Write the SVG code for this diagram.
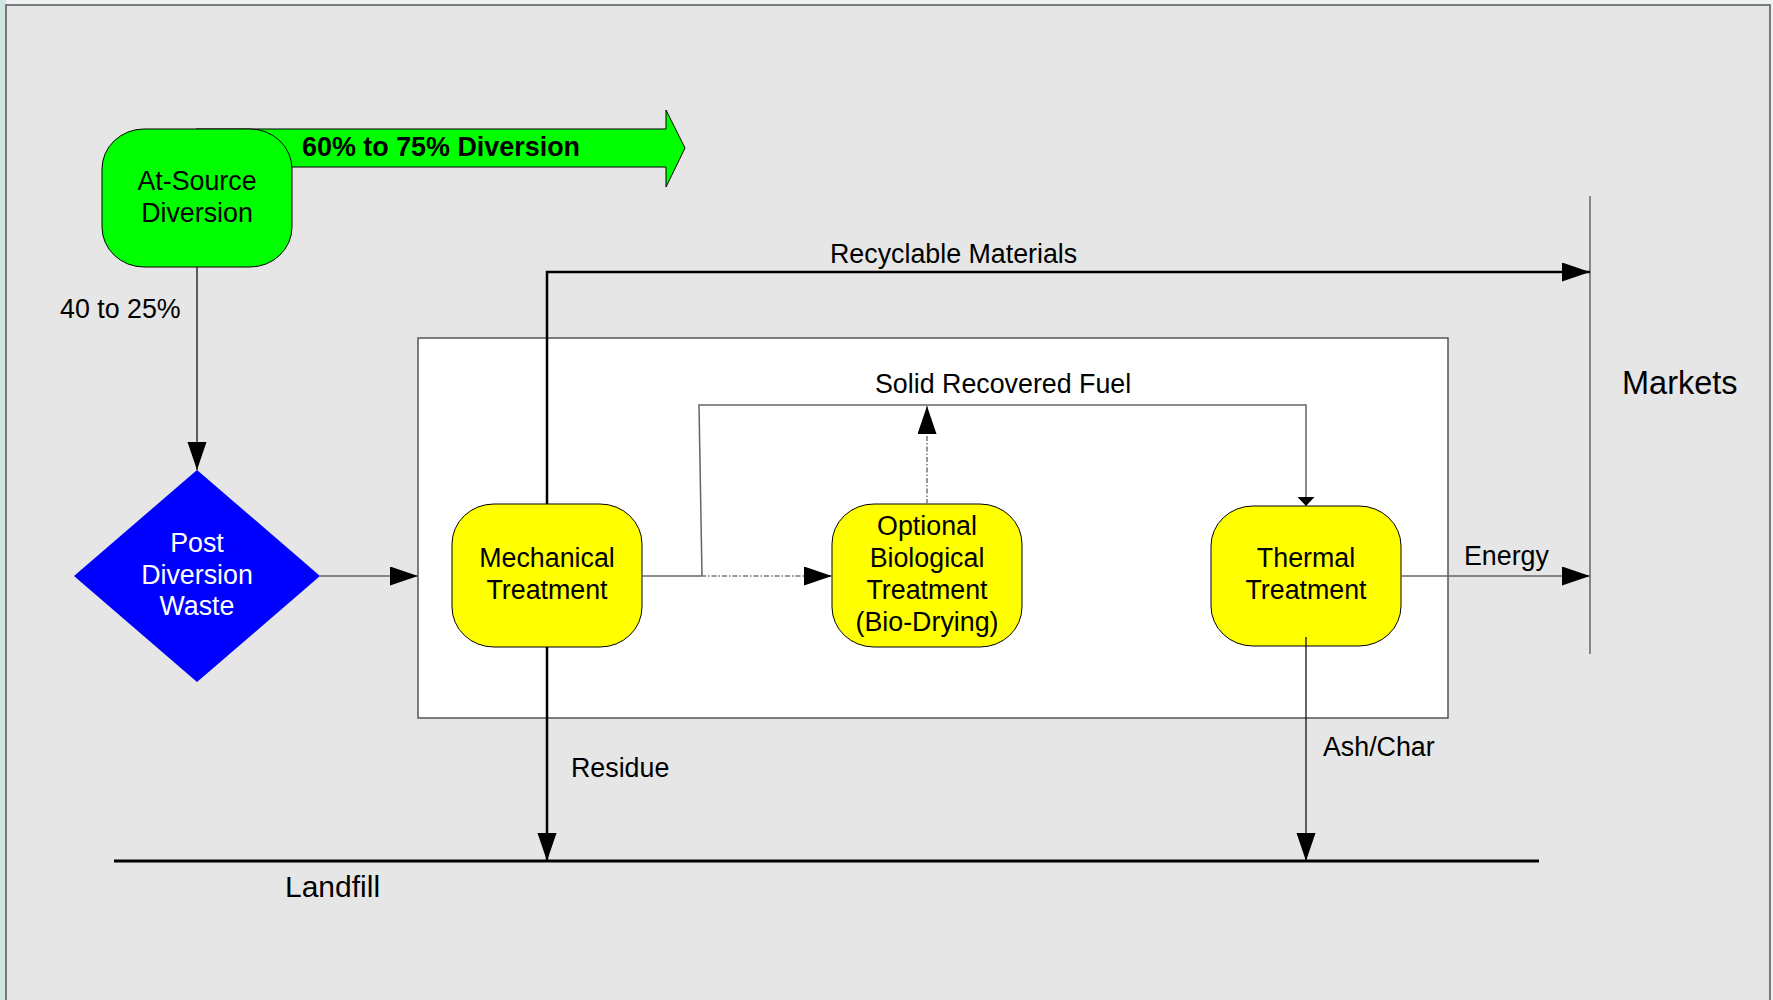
<svg xmlns="http://www.w3.org/2000/svg" width="1773" height="1000" viewBox="0 0 1773 1000">
  <style>
    text { font-family: "Liberation Sans", Arial, sans-serif; font-size: 26.8px; fill: #000; }
    .mid { text-anchor: middle; }
    .node { stroke: #000; stroke-width: 1; }
    .thin { fill: none; stroke: #666; stroke-width: 1.5; }
    .thinBlack { fill: none; stroke: #000; stroke-width: 1.2; }
    .thick { fill: none; stroke: #000; stroke-width: 2.5; }
    .dashdot { fill: none; stroke: #777; stroke-width: 1.5; stroke-dasharray: 5 2 1.5 2; }
  </style>
  <defs>
    <marker id="arrow" markerUnits="userSpaceOnUse" markerWidth="30" markerHeight="22" refX="28" refY="9.5" orient="auto">
      <polygon points="0,0 28,9.5 0,19" fill="#000"/>
    </marker>
    <marker id="arrowSmall" markerUnits="userSpaceOnUse" markerWidth="12" markerHeight="20" refX="9" refY="8.5" orient="auto">
      <polygon points="0,0 9,8.5 0,17" fill="#000"/>
    </marker>
  </defs>

  <!-- page background -->
  <rect x="0" y="0" width="1773" height="1000" fill="#eef1f1"/>
  <rect x="0" y="0" width="6" height="1000" fill="#d0e6e3"/>
  <rect x="6" y="5" width="1764" height="1000" fill="#e6e6e6" stroke="#555" stroke-width="1.5"/>

  <!-- processing area -->
  <rect id="processing-area" x="418" y="338" width="1030" height="380" fill="#fff" stroke="#555" stroke-width="1.5"/>

  <!-- diversion arrow -->
  <g id="diversion-arrow">
    <polygon points="196,129 666,129 666,110 685,148 666,187 666,167 196,167" fill="#00ff00" stroke="#000" stroke-width="1"/>
    <text x="302" y="156" font-weight="bold" style="font-size:26.9px">60% to 75% Diversion</text>
  </g>

  <g id="at-source">
    <rect class="node" x="102" y="129" width="190" height="138" rx="42" ry="40" fill="#00ff00"/>
    <text class="mid" x="197" y="190">At-Source</text>
    <text class="mid" x="197" y="222">Diversion</text>
  </g>

  <g id="post-diversion">
    <polygon points="197,470 320,576 197,682 74,576" fill="#0000ff"/>
    <text class="mid" x="197" y="552" style="fill:#fff">Post</text>
    <text class="mid" x="197" y="584" style="fill:#fff">Diversion</text>
    <text class="mid" x="197" y="615" style="fill:#fff">Waste</text>
  </g>

  <g id="mechanical">
    <rect class="node" x="452" y="504" width="190" height="143" rx="42" ry="40" fill="#ffff00"/>
    <text class="mid" x="547" y="567">Mechanical</text>
    <text class="mid" x="547" y="599">Treatment</text>
  </g>

  <g id="biological">
    <rect class="node" x="832" y="504" width="190" height="143" rx="42" ry="40" fill="#ffff00"/>
    <text class="mid" x="927" y="535">Optional</text>
    <text class="mid" x="927" y="567">Biological</text>
    <text class="mid" x="927" y="599">Treatment</text>
    <text class="mid" x="927" y="631">(Bio-Drying)</text>
  </g>

  <g id="thermal">
    <rect class="node" x="1211" y="506" width="190" height="140" rx="42" ry="40" fill="#ffff00"/>
    <text class="mid" x="1306" y="567">Thermal</text>
    <text class="mid" x="1306" y="599">Treatment</text>
  </g>

  <g id="markets">
    <line x1="1590" y1="196" x2="1590" y2="654" stroke="#666" stroke-width="1.5"/>
    <text x="1622" y="394" style="font-size:32.5px">Markets</text>
  </g>

  <g id="landfill">
    <line x1="114" y1="861" x2="1539" y2="861" stroke="#000" stroke-width="3"/>
    <text x="285" y="897" style="font-size:30px">Landfill</text>
  </g>

  <!-- connectors -->
  <g id="connectors">
    <path class="thinBlack" d="M197,267 V470" marker-end="url(#arrow)"/>
    <text x="60" y="318">40 to 25%</text>

    <path class="thin" d="M320,576 H418" marker-end="url(#arrow)"/>

    <path class="thick" d="M547,504 V272 H1590" marker-end="url(#arrow)"/>
    <text x="830" y="263">Recyclable Materials</text>

    <path class="thin" d="M642,576 H701"/>
    <path class="dashdot" d="M701,576 H832" marker-end="url(#arrow)"/>

    <path class="thin" d="M702,576 L699,405 H1306 V506" marker-end="url(#arrowSmall)"/>
    <path class="dashdot" d="M927,504 V406" marker-end="url(#arrow)"/>
    <text x="875" y="393">Solid Recovered Fuel</text>

    <path class="thin" d="M1401,576 H1590" marker-end="url(#arrow)"/>
    <text x="1464" y="565">Energy</text>

    <path class="thick" d="M547,647 V861" marker-end="url(#arrow)"/>
    <text x="571" y="777">Residue</text>

    <path class="thinBlack" d="M1306,637 V861" marker-end="url(#arrow)"/>
    <text x="1323" y="756">Ash/Char</text>
  </g>
</svg>
